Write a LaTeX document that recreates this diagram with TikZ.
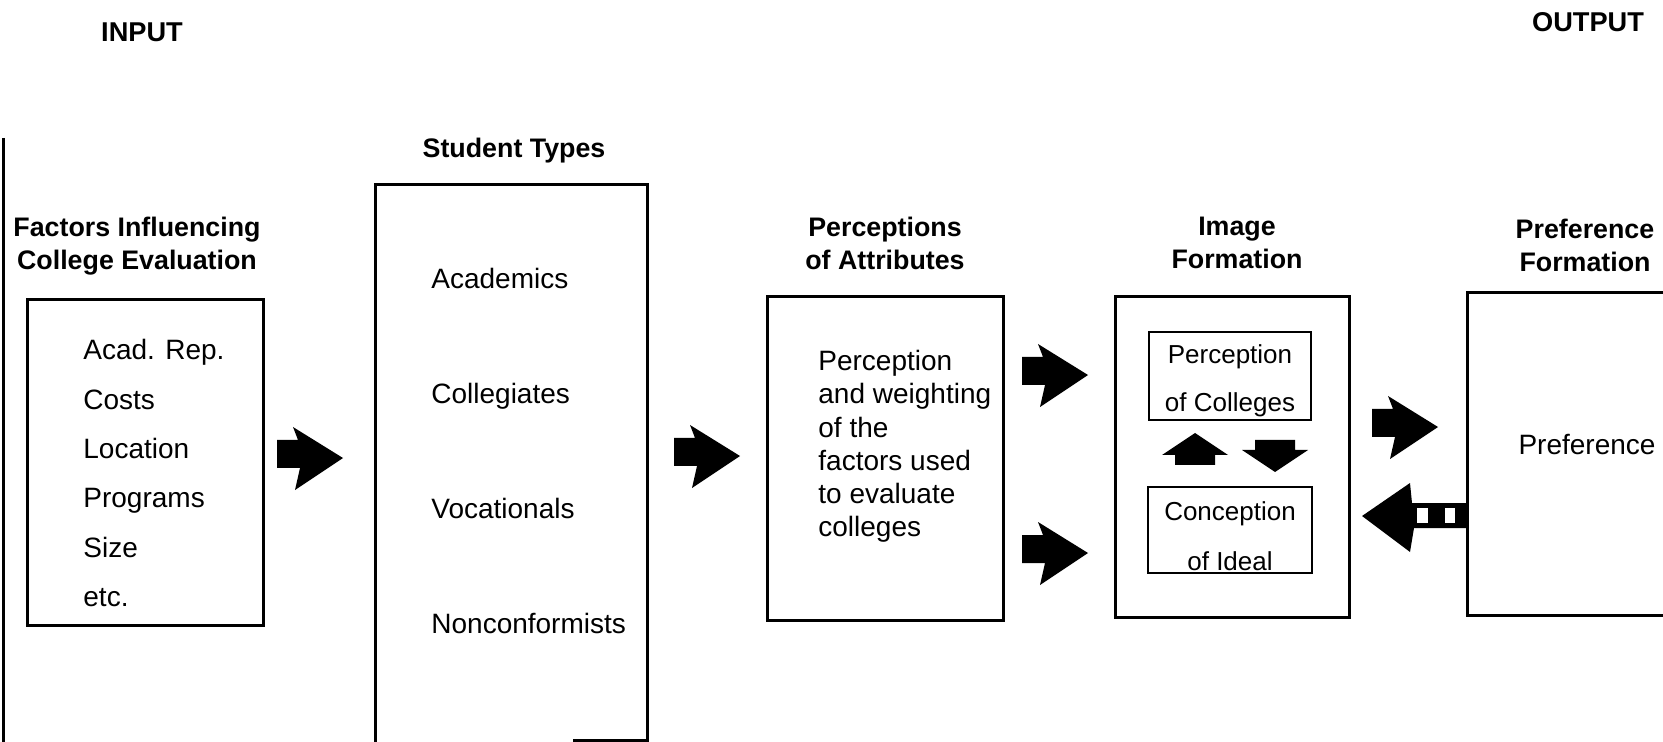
\documentclass[tikz,border=0pt]{standalone}
\usepackage{fontspec}
\setmainfont{Liberation Sans}
\begin{document}
\begin{tikzpicture}[x=0.5pt,y=-0.5pt,
  box/.style={draw, line width=1.5pt, inner sep=0pt},
  ibox/.style={draw, line width=1.2pt, inner sep=0pt},
  itxt/.style={inner sep=0pt, align=center},
  ttl/.style={font=\bfseries\fontsize{13.4}{16.5}\selectfont, align=center, inner sep=0pt, anchor=north},
  hdr/.style={font=\bfseries\fontsize{13.6}{16}\selectfont, inner sep=0pt, anchor=base},
  lst/.style={inner sep=0pt, anchor=north west, align=left},
  pics/bigarrow/.style={code={\fill (-33,-18) -- (-12,-18) -- (-17,-31) -- (33,0) -- (-15,32) -- (-10,10) -- (-33,10) -- cycle;}},
  pics/smallarrow/.style={code={\fill (-20,16) -- (-20,6) -- (-33,6) -- (0,-16) -- (33,6) -- (20,6) -- (20,16) -- cycle;}},
  pics/backarrow/.style={code={
    \fill (0,-12) -- (-55,-12) -- (-57,-32) -- (-105,1) -- (-57,37) -- (-53,13) -- (0,13) -- cycle;
    \fill[white] (-50,-7) rectangle (-39,8);
    \fill[white] (-22,-7) rectangle (-12,8);}},
]
\useasboundingbox (0,0) rectangle (1663,742);

% headers
\node[hdr] (input) at (142,42) {INPUT};
\node[hdr] (output) at (1588,32) {OUTPUT};

% page edge line
\draw[line width=1.5pt] (3,138) -- (3,742);

% titles
\node[ttl] (facT) at (137,217) {Factors Influencing\\College Evaluation};
\node[ttl] (stuT) at (514,138) {Student Types};
\node[ttl] (perT) at (885,217) {Perceptions\\of Attributes};
\node[ttl] (imgT) at (1237,217) {Image\\Formation};
\node[ttl] (prefT) at (1585,219) {Preference\\Formation};

% factors box
\node[box, minimum width=118pt, minimum height=162.5pt] (fac) at (145,462.5) {};
\node[lst, font=\fontsize{14}{24.7}\selectfont] (facL) at (83,339) {Acad. Rep.\\Costs\\Location\\Programs\\Size\\etc.};

% student types box
\node[box, minimum width=136pt, minimum height=307.5pt] (stu) at (511,492.5) {};
\draw[line width=1.5pt] (573,740) -- (647,740);
\node[lst, font=\fontsize{14}{57.5}\selectfont] (stuL) at (431,268) {Academics\\Collegiates\\Vocationals\\Nonconformists};

% perceptions box
\node[box, minimum width=118pt, minimum height=161.5pt] (per) at (885,458.5) {};
\node[lst, font=\fontsize{14}{16.6}\selectfont] (perL) at (818,350) {Perception\\and weighting\\of the\\factors used\\to evaluate\\colleges};

% image formation box
\node[box, minimum width=117pt, minimum height=160pt] (img) at (1232,457) {};
\node[ibox, minimum width=81pt, minimum height=44pt] (pocbox) at (1230,376) {};
\node[itxt, font=\fontsize{13}{24}\selectfont] (poc) at (1230,381) {Perception\\of Colleges};
\node[ibox, minimum width=82pt, minimum height=43pt] (coibox) at (1230,530) {};
\node[itxt, font=\fontsize{13}{25}\selectfont] (coi) at (1230,536) {Conception\\of Ideal};

% preference box
\node[box, minimum width=116.5pt, minimum height=161pt] (pref) at (1583.5,454) {};
\node[font=\fontsize{14}{16}\selectfont, inner sep=0pt, anchor=base] (prefL) at (1587,455) {Preference};

% block arrows
\pic (a1) at (310,458) {bigarrow};
\pic (a2) at (707,456) {bigarrow};
\pic (a3) at (1055,375) {bigarrow};
\pic (a4) at (1055,553) {bigarrow};
\pic (a5) at (1405,427) {bigarrow};
\pic (up) at (1195,449) {smallarrow};
\pic[rotate=180] (down) at (1275,456) {smallarrow};
\pic (back) at (1467,515) {backarrow};
\end{tikzpicture}
\end{document}
